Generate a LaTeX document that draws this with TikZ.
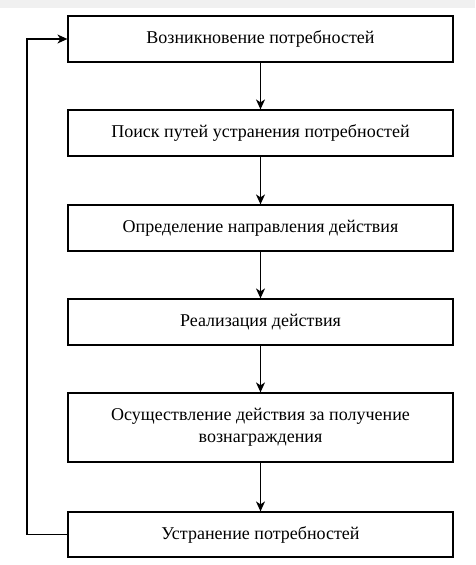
\documentclass[tikz,border=0pt]{standalone}
\usepackage{fontspec}
\setmainfont{Liberation Serif}
\usetikzlibrary{arrows.meta}
\begin{document}
\begin{tikzpicture}[x=1pt,y=-1pt,
    stage/.style={draw, line width=1.2pt, minimum width=385pt, align=center,
        inner sep=0pt, font=\rmfamily\fontsize{18}{22}\selectfont},
    flow/.style={line width=1.2pt, -{Stealth[length=10pt,width=9pt,inset=3pt]}}]
    % Frame
    \useasboundingbox (0,0) rectangle (475,565);
    \fill[gray!12] (0,0) rectangle (475,8);

    % Stages
    \node[stage, minimum height=46pt] (need) at (260.5,39) {Возникновение потребностей};
    \node[stage, minimum height=46pt] (search) at (260.5,133) {Поиск путей устранения потребностей};
    \node[stage, minimum height=46pt] (direct) at (260.5,228) {Определение направления действия};
    \node[stage, minimum height=46pt] (act) at (260.5,322) {Реализация действия};
    \node[stage, minimum height=69pt] (reward) at (260.5,427.5) {Осуществление действия за получение\\вознаграждения};
    \node[stage, minimum height=45pt] (remove) at (260.5,534.5) {Устранение потребностей};

    % Arrows down
    \draw[flow] (need) -- (search);
    \draw[flow] (search) -- (direct);
    \draw[flow] (direct) -- (act);
    \draw[flow] (act) -- (reward);
    \draw[flow] (reward) -- (remove);

    % Feedback loop
    \draw[flow] (remove.west) -- (27,534.5) -- (27,39) -- (need.west);
\end{tikzpicture}
\end{document}
